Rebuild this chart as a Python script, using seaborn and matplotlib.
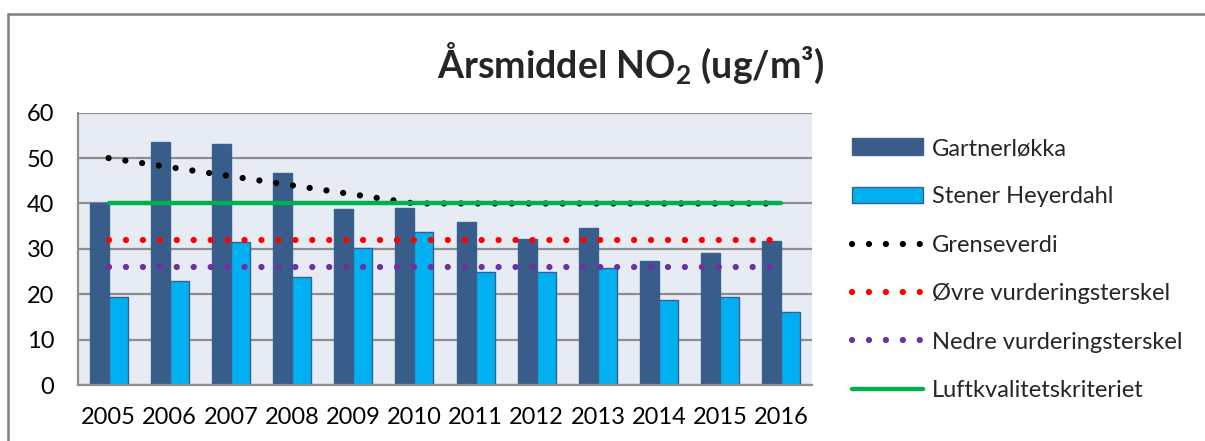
import numpy as np
import pandas as pd
import seaborn as sns
from matplotlib import pyplot as plt
from matplotlib.lines import Line2D

years = ["2005", "2006", "2007", "2008", "2009", "2010",
         "2011", "2012", "2013", "2014", "2015", "2016"]
gartnerlokka = [40.0, 53.6, 53.1, 46.8, 38.8, 39.1, 36.0, 32.2, 34.5, 27.3, 29.1, 31.7]
stener_heyerdahl = [19.5, 23.0, 31.6, 23.9, 30.2, 33.7, 25.0, 24.8, 25.7, 18.7, 19.3, 16.1]
grenseverdi = [50, 48, 46, 44, 42, 40, 40, 40, 40, 40, 40, 40]
ovre = [32] * 12
nedre = [26] * 12
luftkvalitet = [40] * 12

stations = ["Gartnerløkka", "Stener Heyerdahl"]

df = pd.DataFrame({
    "year": years * 2,
    "value": gartnerlokka + stener_heyerdahl,
    "station": [stations[0]] * 12 + [stations[1]] * 12,
})

sns.set_style("white")
plt.rcParams["font.family"] = ["Lato", "DejaVu Sans"]
plt.rcParams["mathtext.fontset"] = "custom"
plt.rcParams["mathtext.rm"] = "Lato"
plt.rcParams["mathtext.bf"] = "Lato:bold"

fig = plt.figure(figsize=(12.05, 4.41), dpi=100)
ax = fig.add_axes([78 / 1205, 56 / 441, (812 - 78) / 1205, (385 - 112.7) / 441])
ax.set_facecolor("#E7ECF4")

sns.barplot(
    data=df, x="year", y="value", hue="station",
    palette=["#385D8A", "#00B0F0"], saturation=1,
    width=0.62, edgecolor="#3A6090", linewidth=1.0,
    ax=ax, zorder=2,
)

idx = np.arange(len(years))
dot = dict(linestyle=(0, (0.01, 2.7)), dash_capstyle="round", linewidth=4.5)
sns.lineplot(x=idx, y=grenseverdi, color="black", label="Grenseverdi", ax=ax, zorder=3, **dot)
sns.lineplot(x=idx, y=ovre, color="#FF0000", label="Øvre vurderingsterskel", ax=ax, zorder=3, **dot)
sns.lineplot(x=idx, y=nedre, color="#7030A0", label="Nedre vurderingsterskel", ax=ax, zorder=3, **dot)
sns.lineplot(x=idx, y=luftkvalitet, color="#00B050", linewidth=3.2, label="Luftkvalitetskriteriet",
             ax=ax, zorder=4, solid_capstyle="round")

ax.set_xlim(-0.5, 11.5)
ax.set_ylim(0, 60)
ax.set_yticks(range(0, 61, 10))
ax.yaxis.grid(True, color="#8E8E8E", linewidth=1.6, zorder=0)
ax.set_axisbelow(True)
ax.set_xlabel("")
ax.set_ylabel("")
ax.tick_params(axis="both", length=0, labelsize=17, colors="black")
ax.tick_params(axis="y", pad=17)
ax.tick_params(axis="x", pad=16)
for side in ["top", "right"]:
    ax.spines[side].set_visible(False)
for side in ["left", "bottom"]:
    ax.spines[side].set_color("#8E8E8E")
    ax.spines[side].set_linewidth(1.6)

handles, labels = ax.get_legend_handles_labels()
ax.legend(
    handles, labels, loc="upper left", bbox_to_anchor=(852 / 1205, 1 - 138 / 441),
    bbox_transform=fig.transFigure, frameon=False, fontsize=17,
    handlelength=3.0, handletextpad=0.4, labelspacing=1.16,
    borderpad=0, borderaxespad=0,
)

fig.text(631 / 1205, 1 - 63 / 441, r"Årsmiddel NO$_\mathbf{2}$ (ug/m³)",
         ha="center", va="center", fontsize=27, fontweight="bold")

# outer frame: only the left and top edges are inside the picture
fig.add_artist(Line2D([8 / 1205, 8 / 1205], [-0.05, 1 - 14 / 441], transform=fig.transFigure,
                      color="#808080", linewidth=1.8))
fig.add_artist(Line2D([8 / 1205, 1.05], [1 - 14 / 441, 1 - 14 / 441], transform=fig.transFigure,
                      color="#808080", linewidth=1.8))

fig.savefig("out.png", dpi=100)
